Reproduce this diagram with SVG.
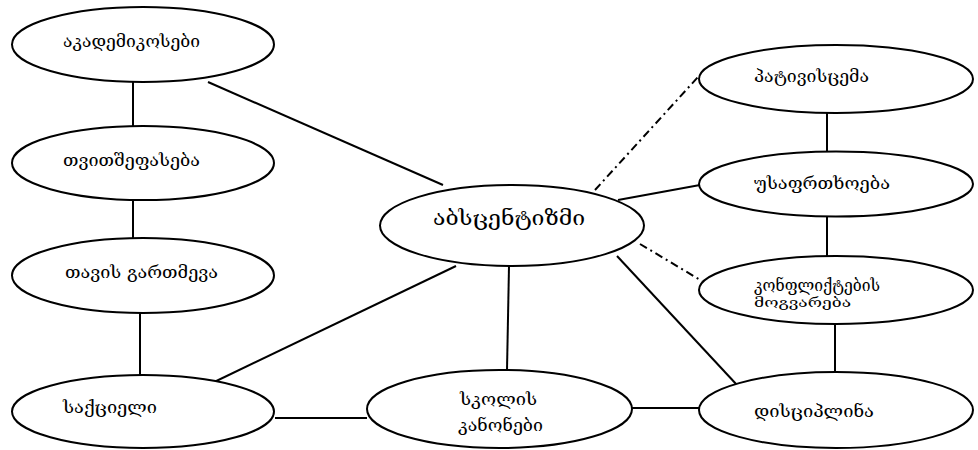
<svg xmlns="http://www.w3.org/2000/svg" width="978" height="450" viewBox="0 0 978 450">
<style>
.n ellipse{fill:#fff;stroke:#000;stroke-width:2}
.c line{stroke:#000;stroke-width:2}
.c .dd{stroke-dasharray:8 4 2 4}
text{font-family:"DejaVu Serif","DejaVu Sans",serif;fill:#000;font-size:16px}
.big{font-size:20px}
.sm{font-size:13.5px}
</style>
<rect width="978" height="450" fill="#fff"/>
<g class="c" id="connectors">
<line x1="133" y1="82" x2="133" y2="126"/>
<line x1="133" y1="200" x2="133" y2="238"/>
<line x1="140" y1="313" x2="140" y2="375"/>
<line x1="208" y1="82" x2="443" y2="185"/>
<line x1="456" y1="266" x2="208" y2="385"/>
<line x1="509" y1="266" x2="507" y2="370"/>
<line x1="275" y1="418" x2="367" y2="418"/>
<line x1="632" y1="408" x2="700" y2="408"/>
<line class="dd" x1="595" y1="190" x2="698" y2="77"/>
<line x1="618" y1="200" x2="700" y2="185"/>
<line class="dd" x1="640" y1="244" x2="702" y2="281"/>
<line x1="617" y1="256" x2="737" y2="385"/>
<line x1="827" y1="113" x2="827" y2="152"/>
<line x1="827" y1="216" x2="827" y2="256"/>
<line x1="835" y1="324" x2="835" y2="382"/>
</g>
<g class="n" id="n1"><ellipse cx="143" cy="44.5" rx="131" ry="37.5"/><text x="63" y="47" textLength="137" lengthAdjust="spacingAndGlyphs">აკადემიკოსები</text></g>
<g class="n" id="n2"><ellipse cx="143" cy="163" rx="131" ry="37"/><text x="63" y="166" textLength="137" lengthAdjust="spacingAndGlyphs">თვითშეფასება</text></g>
<g class="n" id="n3"><ellipse cx="143" cy="275.5" rx="131" ry="37.5"/><text x="65" y="278" textLength="153" lengthAdjust="spacingAndGlyphs">თავის გართმევა</text></g>
<g class="n" id="n4"><ellipse cx="143" cy="411.5" rx="131" ry="36.5"/><text x="63" y="413" textLength="94" lengthAdjust="spacingAndGlyphs">საქციელი</text></g>
<g class="n" id="n5"><ellipse cx="512" cy="225.5" rx="132" ry="40.5"/><text class="big" x="433" y="225" textLength="152" lengthAdjust="spacingAndGlyphs">აბსცენტიზმი</text></g>
<g class="n" id="n6"><ellipse cx="499.5" cy="409" rx="132.5" ry="39"/><text x="460" y="405" textLength="77" lengthAdjust="spacingAndGlyphs">სკოლის</text><text x="458" y="431" textLength="85" lengthAdjust="spacingAndGlyphs">კანონები</text></g>
<g class="n" id="n7"><ellipse cx="836" cy="79" rx="137" ry="34"/><text x="754" y="82" textLength="115" lengthAdjust="spacingAndGlyphs">პატივისცემა</text></g>
<g class="n" id="n8"><ellipse cx="836" cy="184" rx="137" ry="32.5"/><text x="754" y="189" textLength="136" lengthAdjust="spacingAndGlyphs">უსაფრთხოება</text></g>
<g class="n" id="n9"><ellipse cx="836" cy="290" rx="137" ry="34"/><text x="754" y="291" textLength="126" lengthAdjust="spacingAndGlyphs">კონფლიქტების</text><text class="sm" x="754" y="307" textLength="97" lengthAdjust="spacingAndGlyphs">მოგვარება</text></g>
<g class="n" id="n10"><ellipse cx="836" cy="410" rx="137" ry="38"/><text x="754" y="417" textLength="120" lengthAdjust="spacingAndGlyphs">დისციპლინა</text></g>
</svg>
